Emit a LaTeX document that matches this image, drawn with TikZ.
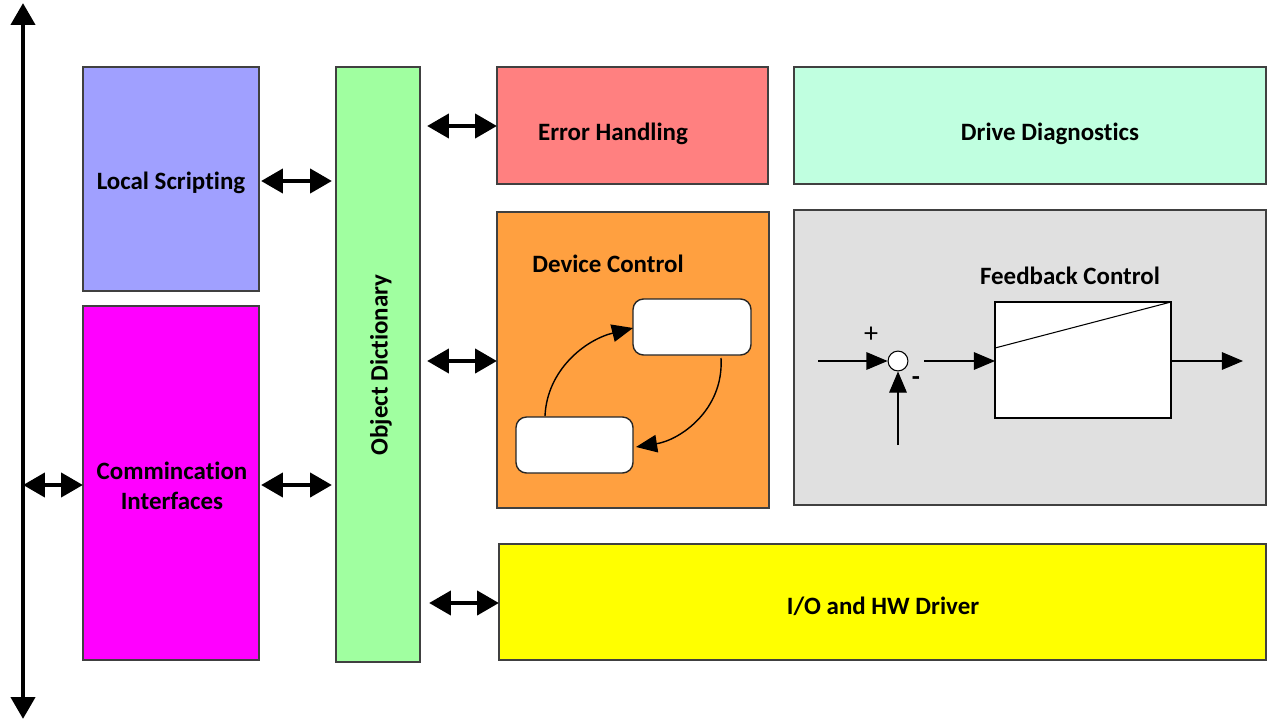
\documentclass[tikz,border=0pt]{standalone}
\usepackage{fontspec}
\setmainfont[Ligatures=NoCommon]{Carlito}
\usetikzlibrary{arrows.meta}
\definecolor{cLS}{HTML}{A0A0FF}
\definecolor{cCI}{HTML}{FF00FF}
\definecolor{cOD}{HTML}{A0FFA0}
\definecolor{cEH}{HTML}{FF8080}
\definecolor{cDD}{HTML}{C0FFE0}
\definecolor{cDC}{HTML}{FFA040}
\definecolor{cFC}{HTML}{E0E0E0}
\definecolor{cIO}{HTML}{FFFF00}
\definecolor{cBorder}{HTML}{404040}
\tikzset{
  blk/.style={draw=cBorder, line width=0.6pt},
  lbl/.style={font=\bfseries\fontsize{14.2}{17}\selectfont, inner sep=0pt},
  dbl/.style={line width=2.8pt, {Triangle[length=12.5pt,width=13.5pt]}-{Triangle[length=12.5pt,width=13.5pt]}},
  thin/.style={line width=0.6pt, -{Triangle[length=12pt,width=10pt]}},
  state/.style={draw=black!85, line width=0.8pt, fill=white, rounded corners=6pt}
}
\begin{document}
\begin{tikzpicture}[x=0.02cm,y=-0.02cm]
\useasboundingbox (0,0) rectangle (1267,720);
% boxes
\draw[blk, fill=cLS] (83,67) rectangle (259,291);
\node[lbl] (ls) at (171,183) {Local Scripting};
\draw[blk, fill=cCI] (83,306) rectangle (259,660);
\node[lbl, align=center] (ci) at (172,486) {Commincation\\[0pt]Interfaces};
\draw[blk, fill=cOD] (336,67) rectangle (420,662);
\node[lbl, rotate=90] (od) at (381,365) {Object Dictionary};
\draw[blk, fill=cEH] (497,67) rectangle (768,184);
\node[lbl] (eh) at (613,134) {Error Handling};
\draw[blk, fill=cDD] (794,67) rectangle (1266,184);
\node[lbl] (dd) at (1050,134) {Drive Diagnostics};
\draw[blk, fill=cDC] (497,212) rectangle (769,508);
\node[lbl] (dc) at (608,264) {Device Control};
\draw[blk, fill=cFC] (794,210) rectangle (1266,505);
\node[lbl] (fc) at (1070,276) {Feedback Control};
\draw[blk, fill=cIO] (499,544) rectangle (1266,660);
\node[lbl] (io) at (883,606) {I/O and HW Driver};
% main vertical arrow
\coordinate (vt) at (23,3);
\coordinate (vb) at (23,719);
\draw[dbl] (vt) -- (vb);
% double arrows
\coordinate (a1) at (23,485); \coordinate (a2) at (83,485);
\draw[dbl] (a1) -- (a2);
\coordinate (b1) at (261,181); \coordinate (b2) at (332,181);
\draw[dbl] (b1) -- (b2);
\coordinate (c1) at (261,485); \coordinate (c2) at (332,485);
\draw[dbl] (c1) -- (c2);
\coordinate (d1) at (427,126); \coordinate (d2) at (497,126);
\draw[dbl] (d1) -- (d2);
\coordinate (e1) at (427,361); \coordinate (e2) at (497,361);
\draw[dbl] (e1) -- (e2);
\coordinate (f1) at (429,603); \coordinate (f2) at (499,603);
\draw[dbl] (f1) -- (f2);
% device control states
\draw[state] (633,299) rectangle (751,355);
\draw[state] (516,417) rectangle (633,473);
\coordinate (s1) at (545,416);
\coordinate (s2) at (633,328);
\coordinate (s3) at (721,358);
\coordinate (s4) at (636,447);
\draw[thin, line width=0.8pt] (s1) .. controls (547,370) and (585,340) .. (s2);
\draw[thin, line width=0.8pt] (s3) .. controls (724,410) and (680,440) .. (s4);
% feedback control
\node[draw=black, line width=0.6pt, fill=white, circle, minimum size=11.3pt, inner sep=0pt] (sum) at (898,361) {};
\draw[line width=0.6pt, fill=white] (995,302) rectangle (1171,418);
\draw[line width=0.6pt] (995,348) -- (1171,302);
\coordinate (in) at (818,361);
\coordinate (fb) at (898,445);
\coordinate (out) at (1243,361);
\coordinate (pl) at (995,361);
\coordinate (pr) at (1171,361);
\coordinate (so) at (924,361);
\draw[thin] (in) -- (sum.west);
\draw[thin] (fb) -- (sum.south);
\draw[thin] (so) -- (pl);
\draw[thin] (pr) -- (out);
\node[font=\fontsize{16}{16}\selectfont, inner sep=0pt] (plus) at (871,335) {+};
\node[font=\bfseries\fontsize{15}{15}\selectfont, inner sep=0pt] (minus) at (916,381) {-};
\end{tikzpicture}
\end{document}
